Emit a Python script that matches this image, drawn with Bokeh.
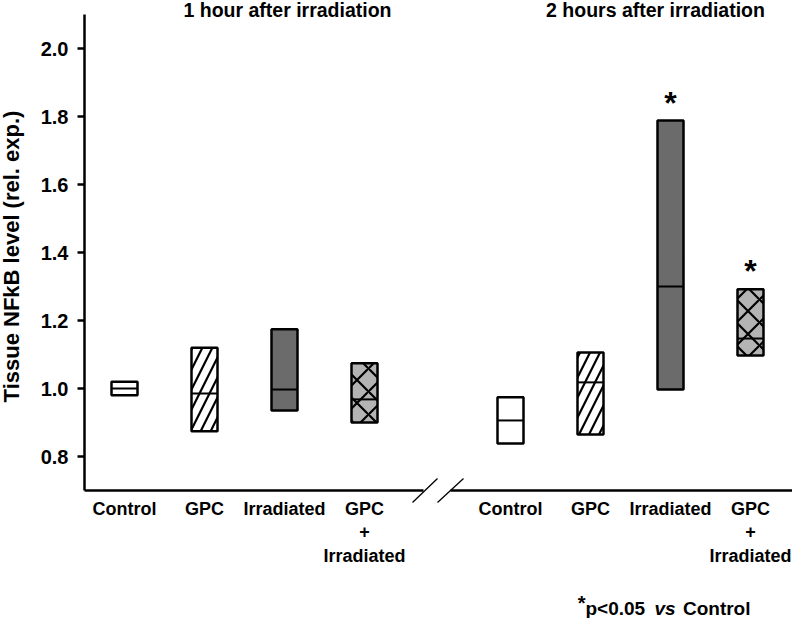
import math
from bokeh.plotting import figure
from bokeh.models import ColumnDataSource, FixedTicker, Range1d, NumeralTickFormatter, LinearAxis
from bokeh.core.properties import value
from bokeh.embed import file_html
from bokeh.resources import INLINE

# ---------------- data ----------------
categories = ["Control", "GPC", "Irradiated", "GPC\n+\nIrradiated"]
group_titles = ["1 hour after irradiation", "2 hours after irradiation"]

# 1 hour after irradiation: lower edge, median, upper edge of each box
low_1h = [0.980, 0.874, 0.935, 0.900]
med_1h = [1.000, 0.985, 0.997, 0.968]
high_1h = [1.020, 1.120, 1.174, 1.074]

# 2 hours after irradiation
low_2h = [0.838, 0.865, 0.997, 1.097]
med_2h = [0.906, 1.018, 1.300, 1.147]
high_2h = [0.974, 1.106, 1.788, 1.292]

significant_2h = [False, False, True, True]

y_ticks = [0.8, 1.0, 1.2, 1.4, 1.6, 1.8, 2.0]
y_label = "Tissue NFkB level (rel. exp.)"

# ---------------- styles / layout ----------------
FONT = value("Liberation Sans")
fills = ["white", "white", "#6b6b6b", "#b4b4b4"]
hatches = [" ", "/", " ", "x"]
hatch_scales = [12, 20, 12, 23]
BOX_W = 0.325
GROUP2_OFFSET = 4.825

W, H = 792, 618
AXIS_PX = 84    # pixel column of the y axis
PX_X = 80.0     # pixels per x unit
PX_Y = 340.0    # pixels per y unit
Y_BASE = 0.7    # bottom of the y axis
BASE_PX = 490   # pixel row of the x axis line
X0_PX = 124     # pixel column of the first category


def ydat(py):
    return Y_BASE + (BASE_PX - py) / PX_Y


def xdat(px):
    return 1 + (px - X0_PX) / PX_X


pos_1h = [i + 1 for i in range(len(categories))]
pos_2h = [p + GROUP2_OFFSET for p in pos_1h]

xs = pos_1h + pos_2h
src = ColumnDataSource(dict(
    left=[x - BOX_W / 2 for x in xs],
    right=[x + BOX_W / 2 for x in xs],
    low=low_1h + low_2h, med=med_1h + med_2h, high=high_1h + high_2h,
    fill=fills * 2, hatch=hatches * 2, hscale=hatch_scales * 2,
))

x_range = Range1d(xdat(0), xdat(W))
y_range = Range1d(ydat(H), ydat(0))

p = figure(width=W, height=H, output_backend="svg", toolbar_location=None,
           x_range=x_range, y_range=y_range, x_axis_location=None, y_axis_location=None,
           min_border_left=0, min_border_right=0, min_border_top=0, min_border_bottom=0)
p.outline_line_color = None
p.xgrid.visible = False
p.ygrid.visible = False

# y axis, fixed at the left edge of the data area
ax = LinearAxis(fixed_location=xdat(AXIS_PX))
ax.ticker = FixedTicker(ticks=y_ticks)
ax.formatter = NumeralTickFormatter(format="0.0")
ax.bounds = (Y_BASE, 2.1)
ax.axis_line_width = 2.5
ax.major_tick_line_width = 2.5
ax.major_tick_in = 0
ax.major_tick_out = 7
ax.minor_tick_line_color = None
ax.major_label_standoff = 9
ax.major_label_text_font = "Liberation Sans"
ax.major_label_text_font_style = "bold"
ax.major_label_text_font_size = "20px"
ax.major_label_text_color = "black"
p.add_layout(ax, "left")

# y axis title
p.text(x=[xdat(11)], y=[ydat(256)], text=[y_label], angle=math.pi / 2,
       text_align="center", text_baseline="middle", text_font=FONT,
       text_font_style="bold", text_font_size="22px", text_color="black")

# boxes
p.quad(left="left", right="right", bottom="low", top="high", source=src,
       fill_color="fill", line_color="black", line_width=2.5,
       hatch_pattern="hatch", hatch_scale="hscale", hatch_weight=2.2, hatch_color="black")
p.segment(x0="left", x1="right", y0="med", y1="med", source=src,
          line_color="black", line_width=2)

# x axis line with break
break_l, break_r = xdat(423), xdat(450)
p.segment(x0=[xdat(AXIS_PX), break_r], x1=[break_l, x_range.end],
          y0=[Y_BASE, Y_BASE], y1=[Y_BASE, Y_BASE], line_color="black", line_width=2.5)
p.segment(x0=[xdat(412), xdat(437)], x1=[xdat(437), xdat(463)],
          y0=[ydat(502), ydat(502)], y1=[ydat(478), ydat(478)],
          line_color="black", line_width=1.3)

# category labels
p.text(x=xs, y=[ydat(498.5)] * len(xs), text=categories * 2,
       text_align="center", text_baseline="top", text_font=FONT,
       text_font_style="bold", text_font_size="18px", text_line_height=1.17,
       text_color="black")

# group titles
p.text(x=[xdat(287), xdat(655)], y=[ydat(-1.5)] * 2, text=group_titles,
       text_align="center", text_baseline="top", text_font=FONT,
       text_font_style="bold", text_font_size="19.5px", text_color="black")

# significance asterisks
sig_x = [x for x, s in zip(pos_2h, significant_2h) if s]
sig_y = [h + 36 / PX_Y for h, s in zip(high_2h, significant_2h) if s]
p.text(x=sig_x, y=sig_y, text=["*"] * len(sig_x), text_align="center",
       text_baseline="top", text_font=FONT, text_font_style="bold",
       text_font_size="32px", text_color="black")

# footnote
fy = ydat(597.5)
p.text(x=[xdat(585)], y=[ydat(591)], text=["*"], text_align="right",
       text_baseline="top", text_font=FONT, text_font_style="bold",
       text_font_size="20px", text_color="black")
p.text(x=[xdat(585), xdat(750)], y=[fy, fy], text=["p<0.05", "Control"],
       text_align=["left", "right"], text_baseline="top", text_font=FONT,
       text_font_style="bold", text_font_size="19px", text_color="black")
p.text(x=[xdat(654)], y=[fy], text=["vs"], text_align="left",
       text_baseline="top", text_font=FONT, text_font_style="bold italic",
       text_font_size="19px", text_color="black")

open("out.html", "w").write(file_html(p, INLINE))
